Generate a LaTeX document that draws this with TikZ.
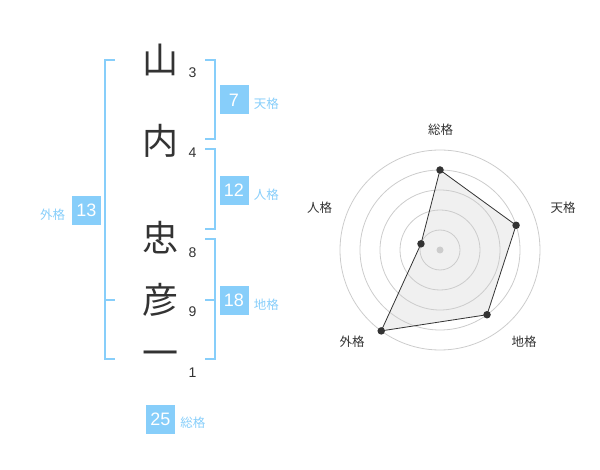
\documentclass[tikz,border=0pt]{standalone}
\usepackage{fontspec}
\setmainfont{Liberation Sans}
\newfontfamily\jpfont{Noto Sans CJK JP}
\usepackage{xcolor}
\usepackage{tikz}
\usetikzlibrary{positioning}
\definecolor{kakucolor}{RGB}{135,206,250}
\definecolor{inkcolor}{RGB}{51,51,51}
\definecolor{ringcolor}{RGB}{204,204,204}
\definecolor{areacolor}{RGB}{240,240,240}

\begin{document}
\begin{tikzpicture}[x=1pt, y=-1pt,
    kanji/.style={inner sep=0pt, text=inkcolor, font=\jpfont\fontsize{36}{36}\selectfont},
    strokes/.style={inner sep=0pt, text=inkcolor, font=\fontsize{14}{14}\selectfont},
    kakubox/.style={fill=kakucolor, text=white, minimum size=29pt, inner sep=0pt, font=\fontsize{18}{18}\selectfont},
    kakuname/.style={inner sep=0pt, text=kakucolor, font=\jpfont\fontsize{12.5}{12.5}\selectfont},
    bracket/.style={draw=kakucolor, line width=2pt},
    axisname/.style={inner sep=0pt, text=inkcolor, font=\jpfont\fontsize{12.5}{12.5}\selectfont},
    ring/.style={draw=ringcolor, line width=0.8pt},
    vertex/.style={circle, fill=inkcolor, inner sep=0pt, minimum size=7.5pt}]
                \useasboundingbox (0,0) rectangle (600,470);

                \node[kanji] (yama) at (160,60) {山};
                \node[kanji] (uchi) at (160,141) {内};
                \node[kanji] (tada) at (160,238) {忠};
                \node[kanji] (hiko) at (160,300) {彦};
                \node[kanji] (ichi) at (160,358.7) {一};

                \node[strokes] (n-yama) at (192.5,73) {3};
                \node[strokes] (n-uchi) at (192.5,152.5) {4};
                \node[strokes] (n-tada) at (192.5,252.5) {8};
                \node[strokes] (n-hiko) at (192.5,312) {9};
                \node[strokes] (n-ichi) at (192.5,373) {1};

                \draw[bracket] (205,60) -- (215,60) -- (215,139.3) -- (205,139.3);
                \draw[bracket] (205,149.3) -- (215,149.3) -- (215,229.3) -- (205,229.3);
                \draw[bracket] (205,239.3) -- (215,239.3) -- (215,359.3) -- (205,359.3);
                \draw[bracket] (205,300) -- (215,300);
                \draw[bracket] (115,60) -- (105,60) -- (105,359.3) -- (115,359.3);
                \draw[bracket] (105,300) -- (115,300);

                \node[kakubox] (ten) at (234,100) {7};
                \node[kakuname, right=5pt of ten, yshift=-4pt] {天格};
                \node[kakubox] (jin) at (234,190.5) {12};
                \node[kakuname, right=5pt of jin, yshift=-4pt] {人格};
                \node[kakubox] (chi) at (234,300.5) {18};
                \node[kakuname, right=5pt of chi, yshift=-4pt] {地格};
                \node[kakubox] (gai) at (86.5,210.5) {13};
                \node[kakuname, left=6.5pt of gai, yshift=-4pt] {外格};
                \node[kakubox] (sou) at (160.5,419.5) {25};
                \node[kakuname, right=5pt of sou, yshift=-3pt] {総格};

                \coordinate (radar) at (440,250);
                \coordinate (p-sou) at ([shift={(-90:80)}]radar);
                \coordinate (p-ten) at ([shift={(-18:80)}]radar);
                \coordinate (p-chi) at ([shift={(54:80)}]radar);
                \coordinate (p-gai) at ([shift={(126:100)}]radar);
                \coordinate (p-jin) at ([shift={(-162:20)}]radar);
                \fill[areacolor] (p-sou) -- (p-ten) -- (p-chi) -- (p-gai) -- (p-jin) -- cycle;
                \foreach \r in {20,40,...,100}
                    \draw[ring] (radar) circle[radius=\r];
                \draw[inkcolor, line width=0.8pt] (p-sou) -- (p-ten) -- (p-chi) -- (p-gai) -- (p-jin) -- cycle;
                \foreach \v in {sou,ten,chi,gai,jin}
                    \node[vertex] (v-\v) at (p-\v) {};
                \node[circle, fill=ringcolor, inner sep=0pt, minimum size=7pt] (hub) at (radar) {};

                \node[axisname] (a-sou) at (440.5,130) {総格};
                \node[axisname] (a-ten) at (563,208) {天格};
                \node[axisname] (a-chi) at (524,342) {地格};
                \node[axisname] (a-gai) at (352,342) {外格};
                \node[axisname] (a-jin) at (319.5,208) {人格};
            \end{tikzpicture}
\end{document}
